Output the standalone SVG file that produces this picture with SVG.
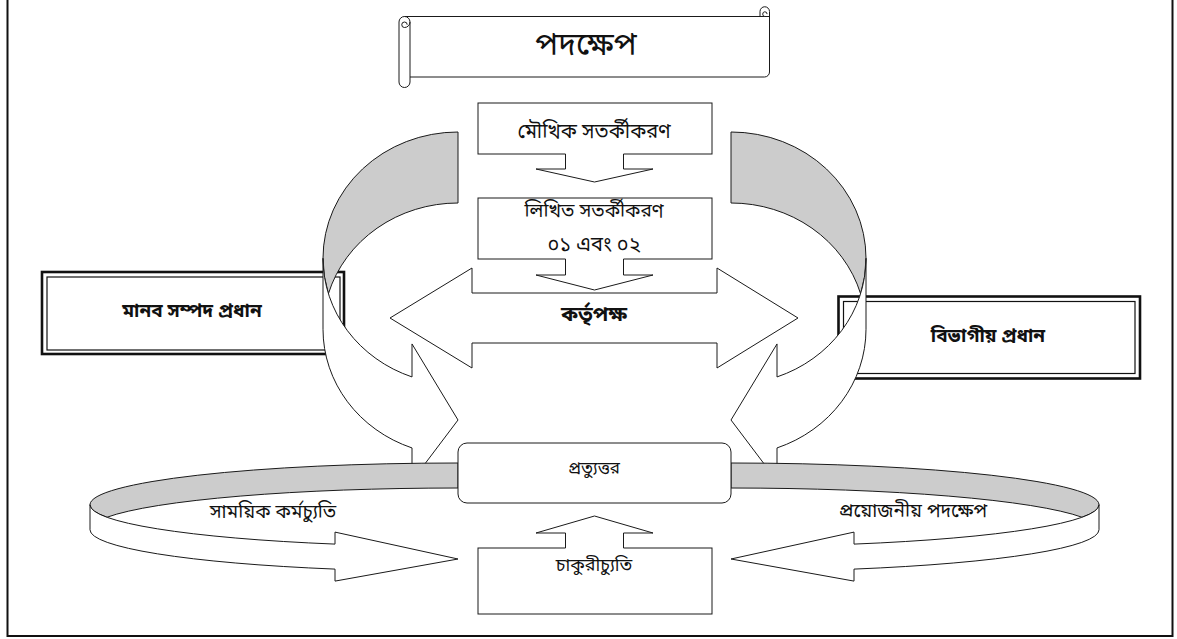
<svg xmlns="http://www.w3.org/2000/svg" width="1177" height="639" viewBox="0 0 1177 639">
<style>
.ln{fill:#fff;stroke:#1a1a1a;stroke-width:1}
.nf{fill:none;stroke:#1a1a1a;stroke-width:1}
.wf{fill:#fff;stroke:none}
.gr{fill:#cccccc;stroke:#1a1a1a;stroke-width:1}
.t{font-family:'Noto Sans Bengali','Noto Serif Bengali','Lohit Bengali','Vrinda','Noto Sans',sans-serif;fill:#111;text-anchor:middle;dominant-baseline:central}
.b{font-weight:bold}
</style>
<defs>
<g id="vArrow">
<path class="gr" d="M323,258.25 A135,126.25 0 0 1 458,132 L458,203 A135,126.25 0 0 0 328.4,293.75 A135,126.25 0 0 1 323,258.25 Z"/>
<path class="ln" d="M323,258.25 A135,126.25 0 0 0 412,376.95 L412,343.95 L458,420 L412,480.95 L412,447.95 A135,126.25 0 0 1 323,329.25 Z"/>
</g>
<g id="hArrow">
<path class="gr" d="M90,504.75 A368,41.75 0 0 1 458,463 L458,488 A368,41.75 0 0 0 106.9,517.25 A368,41.75 0 0 1 90,504.75 Z"/>
<path class="ln" d="M90,504.75 A368,41.75 0 0 0 335,544.1 L335,532.1 L458,559 L335,581.1 L335,569.1 A368,41.75 0 0 1 90,529.75 Z"/>
</g>
</defs>
<rect x="7.5" y="-10" width="1165" height="646" fill="#fff" stroke="#111" stroke-width="2"/>
<g id="title">
<path class="ln" d="M399,22 A5.5,5.5 0 0 1 404.5,16.5 L760,16.5 L760,11.5 A4.75,4.75 0 0 1 769.5,11.5 L769.5,72 A5,5 0 0 1 764.5,77 L410,77 L410,82 A5.5,5.5 0 0 1 399,82 Z"/>
<path class="nf" d="M404.5,16.5 A5.5,5.5 0 0 1 410,22 L410,77 M410,22 A5.5,5.5 0 0 1 404.5,27.5 A2.75,2.75 0 0 1 404.5,22 A2.75,2.75 0 0 1 407.2,24.7"/>
<path class="nf" d="M760,16.5 L764.75,16.5 A2.4,2.4 0 0 1 764.75,11.75 A2.4,2.4 0 0 1 767.1,14.1 M764.75,16.5 L769.5,16.5"/>
<text class="t" x="586" y="47" font-size="32">পদক্ষেপ</text>
</g>
<g id="verbal">
<rect class="ln" x="478" y="103" width="234" height="51"/>
<text class="t" x="594" y="133" font-size="20">মৌখিক সতর্কীকরণ</text>
</g>
<g id="written">
<rect class="ln" x="478" y="198" width="234" height="61"/>
<text class="t" x="594" y="212" font-size="19">লিখিত সতর্কীকরণ</text>
<text class="t" x="594" y="246" font-size="20">০১ এবং ০২</text>
</g>
<g id="authority">
<path class="ln" d="M390,318 L472,268 L472,293 L717,293 L717,268 L798,318 L717,368 L717,343 L472,343 L472,368 Z"/>
<text class="t b" x="594" y="316" font-size="21">কর্তৃপক্ষ</text>
</g>
<g id="hr">
<rect x="42" y="272" width="302" height="82" fill="#fff" stroke="#111" stroke-width="2.6"/>
<rect x="47" y="277" width="293" height="73" fill="none" stroke="#111" stroke-width="1.2"/>
<text class="t b" x="192" y="312" font-size="19">মানব সম্পদ প্রধান</text>
</g>
<g id="dept">
<rect x="838.5" y="296.5" width="301.5" height="82" fill="#fff" stroke="#111" stroke-width="2.6"/>
<rect x="843.5" y="301.5" width="291.5" height="72" fill="none" stroke="#111" stroke-width="1.2"/>
<text class="t b" x="988" y="337" font-size="19">বিভাগীয় প্রধান</text>
</g>
<g id="connectors">
<path class="wf" d="M565.5,152 L623.5,152 L623.5,169 L653,169 L594.5,182 L536,169 L565.5,169 Z"/>
<path class="nf" d="M565.5,154 L565.5,169 L536,169 L594.5,182 L653,169 L623.5,169 L623.5,154"/>
<path class="wf" d="M565.5,257 L623.5,257 L623.5,275 L653,275 L594.5,290 L536,275 L565.5,275 Z"/>
<path class="nf" d="M565.5,259 L565.5,275 L536,275 L594.5,290 L653,275 L623.5,275 L623.5,259"/>
<use href="#vArrow"/>
<use href="#vArrow" transform="translate(1189,0) scale(-1,1)"/>
<use href="#hArrow"/>
<use href="#hArrow" transform="translate(1189,0) scale(-1,1)"/>
<text class="t" x="273" y="513" font-size="19">সাময়িক কর্মচ্যুতি</text>
<text class="t" x="913" y="512" font-size="19">প্রয়োজনীয় পদক্ষেপ</text>
</g>
<g id="response">
<rect class="ln" x="458" y="443" width="273" height="60" rx="9" ry="9"/>
<text class="t" x="594" y="469" font-size="17">প্রত্যুত্তর</text>
</g>
<g id="dismissal">
<rect class="ln" x="478" y="548" width="234" height="66"/>
<text class="t" x="594" y="566" font-size="18">চাকুরীচ্যুতি</text>
</g>
<g id="upArrow">
<path class="wf" d="M565.5,550 L623.5,550 L623.5,533 L653,533 L594.5,516 L536,533 L565.5,533 Z"/>
<path class="nf" d="M565.5,548 L565.5,533 L536,533 L594.5,516 L653,533 L623.5,533 L623.5,548"/>
</g>
</svg>
